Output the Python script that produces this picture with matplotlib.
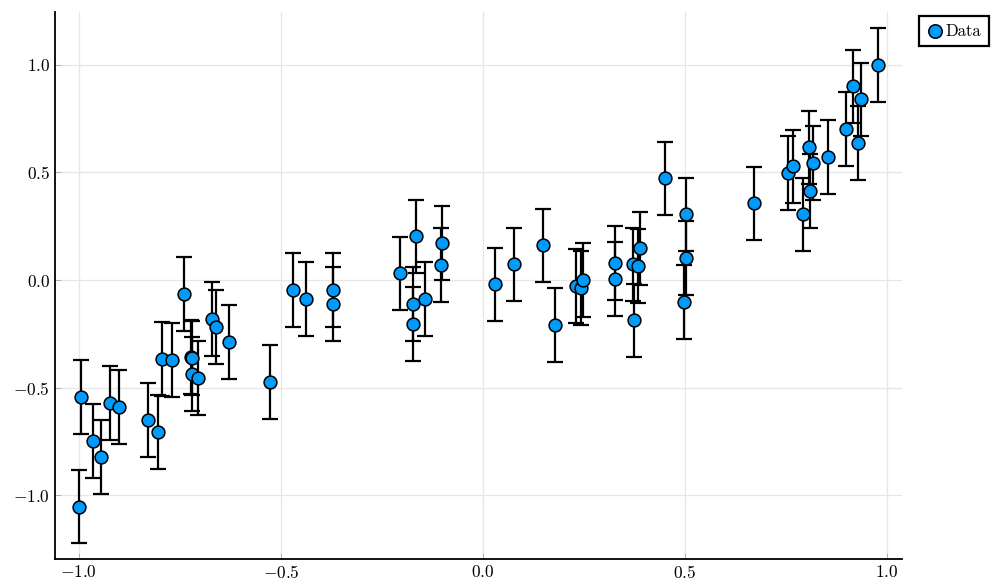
import numpy as np
import matplotlib
matplotlib.use("Agg")
import matplotlib.pyplot as plt

# data
x = [-1.000, -0.995, -0.965, -0.946, -0.923, -0.901, -0.829, -0.804, -0.795, -0.770,
     -0.740, -0.723, -0.720, -0.720, -0.705, -0.671, -0.661, -0.629, -0.527, -0.470,
     -0.438, -0.371, -0.371, -0.205, -0.173, -0.173, -0.166, -0.144, -0.104, -0.101,
     0.030, 0.077, 0.149, 0.178, 0.230, 0.243, 0.248, 0.327, 0.327, 0.371,
     0.374, 0.384, 0.389, 0.450, 0.497, 0.502, 0.502, 0.671, 0.755, 0.767,
     0.807, 0.809, 0.817, 0.792, 0.854, 0.899, 0.916, 0.928, 0.936, 0.978]
y = [-1.053, -0.543, -0.747, -0.821, -0.571, -0.589, -0.650, -0.705, -0.367, -0.371,
     -0.065, -0.357, -0.362, -0.436, -0.455, -0.181, -0.218, -0.288, -0.473, -0.046,
     -0.088, -0.046, -0.111, 0.032, -0.204, -0.111, 0.204, -0.088, 0.070, 0.172,
     -0.019, 0.074, 0.162, -0.209, -0.028, -0.037, 0.000, 0.079, 0.005, 0.074,
     -0.186, 0.065, 0.148, 0.473, -0.102, 0.102, 0.306, 0.357, 0.497, 0.529,
     0.617, 0.413, 0.543, 0.306, 0.571, 0.701, 0.900, 0.636, 0.840, 0.998]
yerr = 0.17
xticks = [-1.0, -0.5, 0.0, 0.5, 1.0]
yticks = [-1.0, -0.5, 0.0, 0.5, 1.0]

plt.rcParams['font.family'] = 'cmr10'
plt.rcParams['mathtext.fontset'] = 'cm'
plt.rcParams['axes.formatter.use_mathtext'] = True

fig = plt.figure(figsize=(9.96, 5.83), dpi=100)
ax = fig.add_axes([0.0552, 0.0412, 0.8504, 0.938])

ax.errorbar(x, y, yerr=yerr, fmt='none', ecolor='black', elinewidth=1.6,
            capsize=5.5, capthick=1.6, zorder=2)
ax.scatter(x, y, s=85, color='#009AFA', edgecolors='black', linewidths=1.1,
           zorder=3, label='Data')

ax.set_xlim(-1.059, 1.037)
ax.set_ylim(-1.295, 1.244)
ax.set_xticks(xticks)
ax.set_yticks(yticks)
ax.set_xticklabels(['$%.1f$' % t for t in xticks])
ax.set_yticklabels(['$%.1f$' % t for t in yticks])
ax.tick_params(direction='in', length=4, width=0.6, color='#aaaaaa',
               labelsize=12.5)
ax.grid(True, color='#e6e6e6', linewidth=0.9)
ax.set_axisbelow(True)
for s in ['top', 'right']:
    ax.spines[s].set_visible(False)
for s in ['left', 'bottom']:
    ax.spines[s].set_linewidth(1.3)

leg = ax.legend(loc='upper left', bbox_to_anchor=(1.020, 0.993), fancybox=False,
                framealpha=1, edgecolor='black', fontsize=12, handletextpad=0.15,
                borderpad=0.45, handlelength=1.0, borderaxespad=0,
                markerscale=1.05)
leg.get_frame().set_linewidth(1.6)

fig.savefig('out.png', dpi=100)
